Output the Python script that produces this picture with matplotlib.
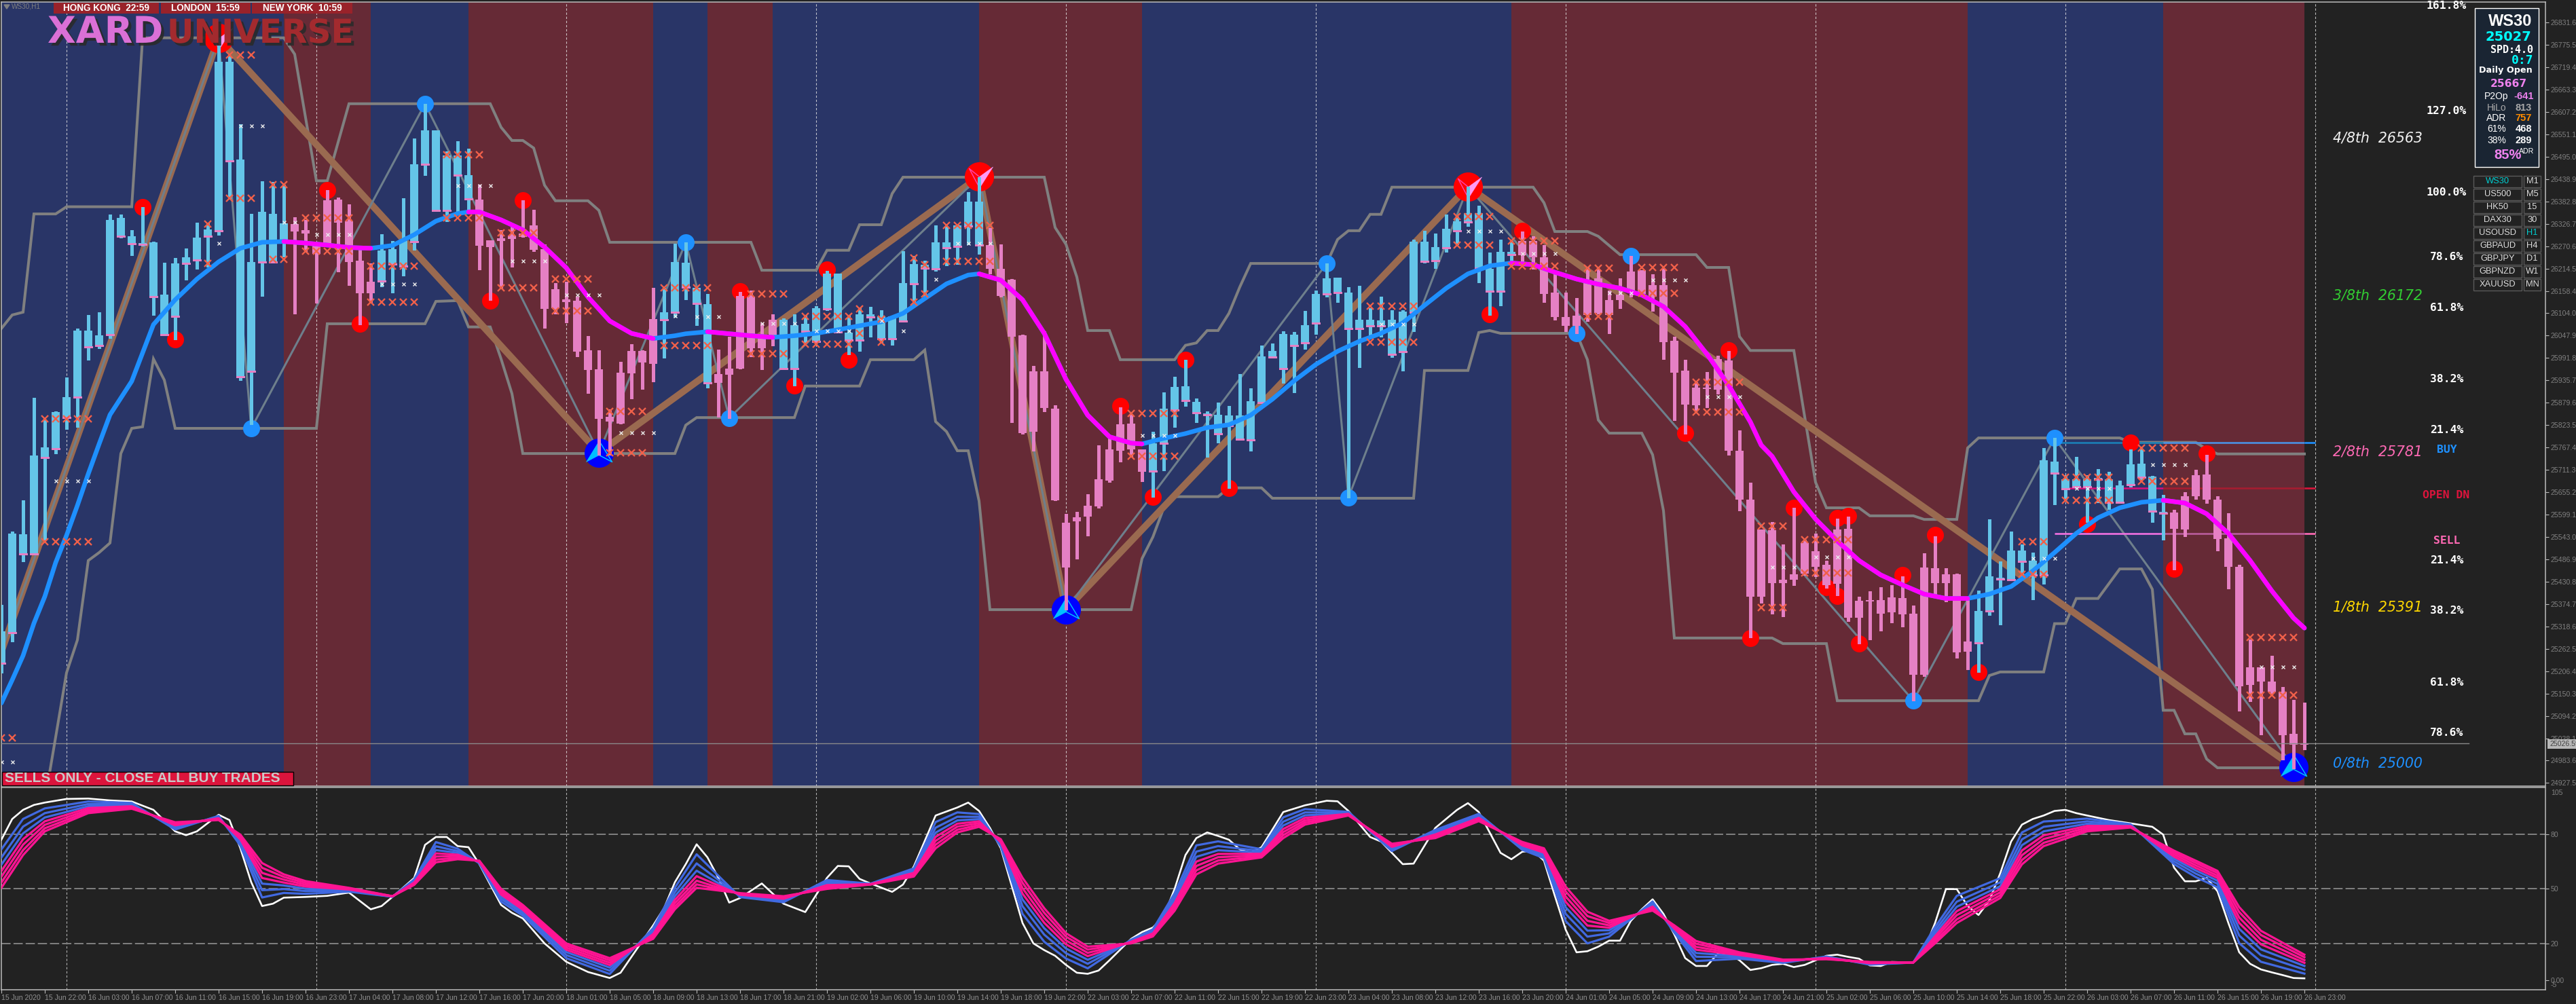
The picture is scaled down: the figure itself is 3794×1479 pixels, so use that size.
import numpy as np
import matplotlib
matplotlib.use('Agg')
import matplotlib.pyplot as plt
from matplotlib.path import Path
from matplotlib.patches import Rectangle
from matplotlib.transforms import Bbox
import matplotlib.patheffects as pe

W, H = 3794, 1479
NARROW = ['Liberation Sans Narrow', 'Liberation Sans']

# candles, bar index is the position in the list
highs = [25373,25557,25635,25892,25837,25858,25943,26065,26099,26106,
         26351,26351,26312,26369,26283,26230,26242,26266,26330,26330,
         26774,26747,26577,26352,26434,26432,26426,26344,26337,26281,
         26412,26393,26376,26262,26228,26301,26284,26392,26541,26628,
         26562,26509,26534,26516,26426,26286,26312,26322,26386,26363,
         26276,26179,26182,26145,26046,26011,25863,25982,26026,26011,
         26167,26167,26278,26281,26167,26152,26012,26045,26157,26160,
         26079,26101,26091,26101,26097,26121,26210,26203,26099,26116,
         26120,26111,26096,26259,26247,26235,26324,26322,26325,26407,
         26444,26317,26276,26189,26050,25972,26058,25873,25601,25606,
         25650,25773,25790,25868,25849,25763,25807,25905,25944,25987,
         25890,25858,25880,25871,25951,25916,26023,26028,26058,26057,
         26109,26160,26228,26193,26169,26172,26116,26145,26111,26111,
         26288,26310,26303,26351,26346,26420,26373,26256,26288,26284,
         26308,26296,26274,26201,26155,26142,26218,26215,26160,26191,
         26247,26211,26201,26215,26045,25987,25931,25956,25997,26009,
         25810,25679,25562,25581,25525,25616,25536,25552,25484,25589,
         25594,25394,25407,25417,25423,25445,25372,25502,25545,25465,
         25451,25390,25409,25587,25482,25557,25525,25504,25766,25791,
         25698,25744,25698,25713,25706,25684,25763,25763,25696,25649,
         25611,25655,25712,25749,25645,25603,25474,25287,25217,25246,
         25168,25135,25128]
lows = [25203,25281,25482,25501,25536,25752,25814,25819,25987,26016,
        26041,26293,26249,26273,26099,26050,26038,26188,26215,26220,
        26300,26392,25936,25825,26147,26232,26245,26103,26259,26130,
        26273,26208,26174,26075,26130,26171,26155,26198,26262,26449,
        26361,26334,26358,26361,26213,26137,26167,26220,26295,26259,
        26067,26103,26080,25995,25904,25749,25749,25827,25890,25914,
        25933,25992,26094,26138,26074,25917,25844,25841,25965,25995,
        25963,26023,25963,25922,26031,26029,26111,26057,26001,26009,
        26045,26031,26024,26082,26128,26145,26210,26223,26227,26276,
        26252,26203,26145,25831,25802,25759,25858,25635,25361,25489,
        25547,25616,25681,25732,25744,25683,25644,25710,25819,25871,
        25831,25744,25780,25666,25786,25759,25878,25992,25929,25905,
        26014,26052,26145,26131,25642,25968,26045,26045,25994,25960,
        26058,26230,26216,26257,26276,26322,26181,26099,26123,26223,
        26223,26215,26131,26087,26058,26053,26084,26103,26053,26116,
        26145,26148,26109,25989,25836,25802,25859,25868,25902,25749,
        25610,25292,25378,25351,25344,25423,25448,25445,25416,25397,
        25332,25276,25287,25309,25329,25319,25134,25195,25400,25382,
        25241,25212,25205,25348,25324,25436,25441,25387,25426,25625,
        25637,25666,25581,25630,25613,25630,25669,25688,25581,25536,
        25462,25545,25638,25628,25509,25414,25108,25132,25049,25151,
        24986,24964,25011]
body_tops = [25307,25552,25550,25747,25768,25856,25893,26060,26060,26048,
             26337,26342,26296,26278,26281,26150,26228,26244,26293,26313,
             26733,26733,26488,26232,26358,26352,26329,26327,26312,26273,
             26386,26388,26334,26235,26182,26261,26264,26284,26477,26562,
             26562,26499,26499,26449,26388,26286,26291,26298,26303,26324,
             26264,26164,26138,26135,26011,25963,25844,25955,26009,26009,
             26089,26106,26232,26230,26167,26126,25951,25965,26147,26145,
             26050,26087,26087,26074,26077,26116,26203,26203,26055,26101,
             26101,26096,26096,26179,26227,26225,26281,26281,26324,26383,
             26383,26274,26215,26188,26048,25958,25958,25865,25579,25593,
             25621,25688,25763,25825,25827,25763,25778,25865,25919,25921,
             25882,25851,25849,25848,25848,25883,25995,26009,26052,26050,
             26074,26152,26191,26193,26155,26087,26087,26086,26087,26108,
             26283,26283,26269,26315,26334,26354,26354,26215,26257,26257,
             26284,26284,26244,26155,26094,26097,26188,26191,26137,26150,
             26208,26211,26174,26174,26035,25960,25917,25917,25989,25985,
             25759,25637,25562,25560,25436,25450,25528,25508,25474,25562,
             25564,25383,25383,25385,25392,25390,25351,25467,25465,25450,
             25450,25281,25358,25445,25440,25509,25509,25484,25735,25732,
             25688,25688,25688,25691,25688,25672,25725,25727,25695,25604,
             25604,25645,25698,25700,25637,25540,25468,25217,25217,25181,
             25156,25050,25025]
body_bots = [25227,25304,25501,25501,25742,25764,25842,25893,26019,26023,
             26050,26296,26278,26276,26145,26050,26096,26228,26237,26296,
             26310,26485,25944,25958,26232,26232,26284,26308,26303,26252,
             26273,26330,26232,26154,26154,26184,26227,26222,26283,26477,
             26361,26361,26449,26390,26273,26269,26284,26290,26295,26262,
             26114,26116,26131,26007,25961,25839,25832,25827,25953,25980,
             25977,26087,26106,26169,26128,25929,25929,25950,25965,26016,
             26016,26048,25965,25965,26058,26033,26114,26057,26036,26036,
             26094,26040,26040,26084,26177,26216,26215,26267,26271,26322,
             26274,26215,26147,26045,25803,25807,25866,25635,25467,25582,
             25594,25620,25684,25759,25763,25706,25708,25778,25861,25885,
             25854,25849,25802,25822,25788,25786,25880,25994,25965,26023,
             26029,26079,26152,26155,26065,26065,26072,26072,26001,26007,
             26106,26233,26235,26267,26310,26332,26216,26159,26159,26250,
             26249,26244,26152,26094,26072,26072,26099,26104,26099,26137,
             26157,26152,26145,26031,25955,25875,25873,25914,25912,25759,
             25637,25394,25394,25428,25428,25436,25451,25468,25423,25426,
             25341,25341,25382,25351,25355,25349,25198,25198,25428,25428,
             25254,25256,25278,25358,25438,25436,25482,25448,25448,25703,
             25664,25669,25669,25688,25630,25630,25674,25693,25608,25603,
             25564,25562,25645,25637,25538,25468,25169,25173,25181,25156,
             25047,25023,25023]

# up runs of bars, the background colour follows the same runs
up_runs = [(0, 26), (34, 43), (60, 65), (71, 90), (105, 139), (181, 199)]
down_runs = [(26, 34), (43, 60), (65, 71), (90, 105), (139, 181), (199, 212)]
session_bars = [6, 29, 52, 75, 98, 121, 144, 167, 190, 213]

# channel lines
upper_bars = [0,1,2,3,5,6,12,13,26,27,29,30,32,45,46,47,48,49,50,51,54,55,56,69,70,75,76,78,79,81,82,83,96,97,98,99,100,102,103,108,109,110,111,112,113,114,115,122,123,124,125,126,127,128,141,142,143,146,147,149,156,157,159,160,161,165,166,167,168,171,172,176,177,180,181,182,195,196,202,203,204,212]
upper_vals = [26065,26099,26106,26352,26352,26370,26370,26793,26793,26752,26435,26435,26628,26628,26569,26536,26536,26517,26424,26385,26385,26361,26281,26281,26211,26211,26261,26261,26325,26325,26403,26444,26444,26318,26276,26194,26060,26060,25987,25987,26023,26029,26060,26060,26103,26169,26228,26228,26288,26310,26310,26351,26351,26419,26419,26380,26308,26308,26296,26250,26250,26218,26218,26045,26010,26010,25844,25680,25616,25616,25596,25596,25587,25587,25766,25791,25791,25780,25780,25763,25751,25751]
lower_bars = [4,5,6,7,8,9,10,11,12,13,14,15,16,29,30,39,40,42,43,45,46,47,48,62,63,64,73,74,79,80,84,85,86,87,88,89,90,91,104,105,106,107,108,112,113,116,117,130,131,135,136,137,138,145,146,147,148,151,152,153,154,163,164,168,169,182,183,184,188,189,190,191,193,195,197,198,199,200,201,202,203,204,212]
lower_vals = [24882,25042,25203,25285,25484,25504,25528,25752,25815,25819,25989,25936,25815,25815,26077,26077,26133,26135,26069,26069,25989,25902,25752,25752,25823,25842,25842,25921,25921,25987,25987,26011,25832,25807,25759,25759,25633,25361,25361,25489,25543,25616,25644,25644,25666,25666,25640,25640,25960,25960,26055,26060,26053,26053,25987,25836,25803,25803,25749,25609,25290,25290,25276,25276,25133,25133,25196,25205,25205,25326,25326,25389,25389,25463,25463,25412,25109,25109,25050,25050,24987,24965,24965]

# zigzags
swing_bars = [0, 20, 55, 90, 98, 135, 211]
swing_vals = [25256, 26793, 25754, 26445, 25361, 26420, 24967]
minor_bars = [0, 20, 23, 39, 55, 63, 67, 90, 98, 122, 124, 135, 176, 189, 211]
minor_vals = [25256, 26793, 25815, 26628, 25754, 26281, 25841, 26445, 25361, 26228, 25642, 26420, 25133, 25791, 24967]

# smooth average
hma_bars = [0,1,2,3,4,5,6,7,8,9,10,12,14,16,18,20,22,24,26,28,30,32,34,36,38,40,42,43,44,46,48,50,52,54,56,58,60,62,63,65,67,69,71,73,75,77,79,81,83,85,87,89,90,92,94,96,98,100,102,104,105,107,109,111,113,115,117,119,121,123,125,127,129,131,133,135,137,139,141,143,145,147,149,151,153,155,157,159,161,162,163,165,167,169,171,173,175,177,179,181,183,185,187,189,191,193,195,197,199,201,203,205,207,209,211,212]
hma_vals = [25127,25185,25246,25327,25394,25479,25547,25622,25701,25776,25849,25933,26075,26137,26189,26232,26266,26281,26283,26279,26274,26268,26266,26273,26300,26334,26353,26357,26357,26337,26312,26269,26217,26144,26084,26053,26040,26047,26052,26057,26052,26047,26043,26047,26053,26062,26072,26082,26103,26140,26177,26199,26202,26186,26137,26053,25938,25848,25794,25778,25776,25790,25802,25817,25824,25848,25888,25934,25975,26008,26033,26053,26079,26123,26166,26202,26222,26229,26225,26206,26189,26176,26166,26149,26120,26070,26001,25923,25831,25773,25745,25656,25588,25533,25484,25448,25423,25400,25389,25389,25400,25419,25458,25504,25552,25591,25616,25630,25635,25628,25601,25552,25484,25408,25340,25315]

# signal dots
blue_dot_bars = [23, 39, 63, 67, 122, 124, 145, 150, 176, 189]
blue_dot_vals = [25815, 26628, 26281, 25841, 26228, 25642, 26053, 26247, 25133, 25791]
red_dot_bars = [13, 16, 30, 33, 45, 48, 68, 73, 76, 78, 103, 106, 109, 113, 137, 140, 155, 159, 161, 165, 168, 169, 170, 169, 171, 175, 178, 182, 192, 196, 200, 203]
red_dot_vals = [26370, 26038, 26412, 26077, 26135, 26386, 26159, 25922, 26213, 25987, 25871, 25644, 25987, 25666, 26101, 26309, 25803, 26010, 25290, 25616, 25418, 25591, 25596, 25395, 25277, 25448, 25548, 25205, 25576, 25780, 25463, 25752]
big_top_bars = [20, 90, 135]
big_top_vals = [26793, 26445, 26420]
big_bottom_bars = [55, 98, 211]
big_bottom_vals = [25754, 25361, 24967]

# rows of x marks: first bar, last bar, price
red_x_rows = [(4,8,25839),(4,8,25531),(0,1,25040),(19,19,26327),(19,19,26228),(21,23,26750),(21,23,26392),(25,26,26426),(25,26,26239),
              (28,32,26342),(28,32,26259),(34,38,26222),(34,38,26131),(41,44,26500),(41,44,26342),(46,49,26305),(46,49,26167),(51,54,26189),
              (51,54,26110),(56,59,25858),(56,59,25754),(61,65,26167),(61,65,26023),(69,72,26152),(69,72,26002),(74,78,26095),(74,78,26026),
              (79,79,26115),(79,79,26053),(81,81,26089),(81,81,26031),(84,84,26242),(84,84,26131),(85,85,26225),(85,85,26151),(87,91,26324),
              (87,91,26233),(104,108,25853),(104,108,25746),(126,130,26121),(126,130,26031),(134,137,26346),(134,137,26274),(139,143,26284),
              (139,143,26222),(146,148,26216),(146,148,26096),(151,154,26218),(151,154,26154),(156,160,25930),(156,160,25856),(162,164,25570),
              (162,164,25367),(166,170,25536),(166,170,25453),(186,188,25531),(186,188,25450),(190,194,25693),(190,194,25635),(197,201,25766),
              (197,201,25683),(207,211,25292),(207,211,25147)]
white_x_rows = [(5,8,25684),(0,1,24980),(22,24,26573),(20,20,26279),(26,27,26332),(29,32,26301),(35,38,26177),(42,45,26424),(47,50,26235),
                (52,55,26150),(57,60,25805),(62,62,26097),(64,66,26096),(70,73,26079),(75,78,26060),(81,81,26086),(83,83,26060),(86,86,26189),
                (88,91,26279),(105,108,25798),(127,130,26077),(135,138,26310),(140,143,26254),(148,150,26155),(152,155,26188),(157,160,25895),
                (163,165,25468),(167,170,25494),(187,189,25491),(191,194,25666),(198,201,25725),(208,211,25219)]

# lines at the right end of the chart
level_vals = [25780, 25666, 25552]
level_first_bar = [189, 190, 189]
bid_price = 25026.59

# price axis
price_ticks = [26831.65,26775.55,26719.45,26663.35,26607.25,26551.15,26495.05,26438.95,26382.85,26326.75,26270.65,26214.55,26158.45,26104.00,
               26047.90,25991.80,25935.70,25879.60,25823.50,25767.40,25711.30,25655.20,25599.10,25543.00,25486.90,25430.80,25374.70,25318.60,
               25262.50,25206.40,25150.30,25094.20,25038.10,24983.65,24927.55]
fib_labels = ['161.8%','127.0%','100.0%','78.6%','61.8%','38.2%','21.4%','21.4%','38.2%','61.8%','78.6%']
fib_vals = [26874,26609,26405,26244,26116,25938,25810,25485,25358,25178,25052]
murrey_labels = ['4/8th  26563','3/8th  26172','2/8th  25781','1/8th  25391','0/8th  25000']
murrey_vals = [26541,26148,25757,25367,24976]
murrey_cols = ['#F2F2F2','#32CD32','#FF69B4','#FFD700','#1E90FF']

# oscillator, the white line is read at nearly every bar
white_bars = [0,1,2,3,4,6,8,10,12,14,16,17,18,20,21,22,23,24,25,26,28,30,32,34,35,36,38,39,40,41,42,43,44,46,47,48,50,52,54,56,57,58,60,61,62,63,64,65,66,67,68,70,72,74,76,77,78,79,80,82,83,84,86,88,89,90,91,92,94,95,96,97,98,99,100,101,102,104,105,106,107,108,109,110,111,112,113,114,115,116,118,120,122,123,124,126,127,128,129,130,132,134,135,136,138,139,140,141,142,143,144,145,146,147,148,149,150,151,152,153,154,155,156,157,158,159,160,161,162,163,164,165,166,168,169,170,171,172,173,174,176,177,178,179,180,181,182,183,184,185,186,187,188,189,190,191,192,194,196,198,199,200,201,202,203,204,205,206,207,208,209,210,211,212]
osc_white = [77,88.4,93.4,96.1,97.4,99.4,99.6,98.6,98,93.4,81.6,79.5,81.6,90.7,87.8,72.3,53.7,40.6,41.9,45.2,45.6,46.2,48,38.8,40.6,45.6,56,74.2,78.5,78.5,73.5,72.9,63.6,41.2,36.9,33.8,20.1,10,4.4,1.1,4,12.7,30,39.4,53.7,63.6,74.5,67.3,56.1,42.5,45,53,41.9,37.3,56.1,62.6,62.4,55.5,53,48.4,52.4,62.4,90.3,94.7,97.4,92.8,83.5,72.3,31.3,20.1,16.4,13.3,8.3,4,3.4,5.2,10.8,22.6,26.3,28.8,35,50,68.6,77.9,81,79.1,77,71.7,69.8,72.9,92.2,95.9,98.4,98.1,92.8,78.5,76,69.8,63.6,63.9,83.5,93.4,97.1,92.2,69.8,66.3,70.4,71,65.5,46.2,27.6,15.2,15.8,18.3,21.6,21.6,32.5,38.8,44.3,36.3,25,12,7.7,7.7,14.5,14.5,10.8,5.5,6.5,8.3,8.9,7.1,8.3,13.3,13.9,12.7,11.7,8,7.7,9.9,9.6,16.4,31.3,49.9,49.9,40.6,35.7,43.7,58.6,76,85.3,88.4,90.3,92.8,93.4,91.6,90.3,87.8,86,84.1,79.8,61.7,54.2,54.2,56.1,48.7,31.3,15.2,8.9,5.8,4.2,2.7,1.1,0.9]
mid_bars = [0,2,4,8,12,16,20,22,24,26,28,32,36,38,40,42,44,46,48,52,56,60,62,64,68,72,76,80,84,86,88,90,92,94,96,98,100,104,106,108,110,112,116,118,120,124,128,132,136,140,142,144,146,148,152,154,156,160,164,168,172,176,178,180,184,186,188,192,196,200,202,204,206,208,212]
osc_blue1 = [71.7,88.4,94.2,98,97.2,82.6,90.1,73.8,45.3,47.8,47.3,48.5,45.7,55.2,75.7,72.1,64,43,35.3,12,3.3,28.5,50.7,69,45.5,42.7,54.9,52.9,61.3,86.7,92,91.1,73.3,36.3,21,11.8,6.4,22.1,27.8,47.6,73.9,76.1,71.8,89.3,93.8,92.3,70.8,82.4,91.2,71.5,66.9,32.3,20.1,23.8,43.1,26,10.4,11.7,9.4,12.9,8.4,9.6,29.1,46.2,55.9,81,87,88.6,85.5,63.6,56.5,50.9,20.2,10,3.5]
osc_blue2 = [67.2,84.2,91.6,96.6,96.5,83.5,89.6,75.1,49.3,49.9,48.8,49,45.7,54.6,73.4,70.8,64.3,44.5,36.5,13.7,5.1,27.3,48.2,64,46,43.4,53.8,52.8,60.3,83.6,89.6,89.6,74.2,40.5,24.9,14.7,8.9,21.7,27,45.6,70.5,73.5,70.8,86.9,92,91.9,71.7,81.4,90.4,72.4,68,36.3,23.8,25.6,42,26.9,12.8,12.4,9.8,12.6,8.7,9.6,27.2,43,53.6,77.2,84.1,87.1,85.1,65.1,58.4,52.8,24.4,13.6,5.7]
osc_blue3 = [63.3,80.5,89.2,95.4,95.9,84.2,89.2,76.2,52.9,51.9,50.1,49.4,45.8,54,71.3,69.8,64.6,45.8,37.6,15.3,6.8,26.2,46,60,46.4,44,52.9,52.7,59.5,80.9,87.6,88.3,74.9,44.2,28.4,17.3,11.1,21.3,26.3,43.8,67.6,71.2,70,84.8,90.4,91.5,72.4,80.6,89.6,73.2,69,39.9,27.1,27.3,41.1,27.6,14.8,13.1,10.1,12.3,9,9.6,25.5,40.2,51.5,74,81.6,85.8,84.8,66.5,60.1,54.5,28.1,16.8,7.7]
osc_pink1 = [59.8,77.3,87.1,94.4,95.4,84.9,88.8,77.2,56,53.5,51.3,49.7,45.9,53.5,69.5,68.8,64.8,46.9,38.6,16.6,8.2,25.2,44,57,46.8,44.6,52.1,52.6,58.8,78.6,85.8,87.1,75.6,47.4,31.4,19.6,13.1,21,25.6,42.2,65,69.2,69.3,82.9,89,91.2,73.1,79.9,89,73.9,69.9,42.9,29.9,28.7,40.3,28.3,16.6,13.7,10.4,12.1,9.2,9.6,24,37.8,49.8,71.1,79.4,84.6,84.5,67.7,61.5,56,31.3,19.6,9.4]
osc_pink2 = [56.7,74.3,85.2,93.4,94.9,85.5,88.5,78.1,58.8,55.1,52.3,50,45.9,53.1,67.8,68,65.1,48,39.5,17.8,9.5,24.3,42.2,54.5,47.1,45.1,51.4,52.5,58.1,76.4,84.2,86.1,76.2,50.4,34.1,21.7,14.9,20.7,25,40.8,62.6,67.4,68.6,81.2,87.7,90.9,73.7,79.2,88.4,74.6,70.7,45.8,32.5,30,39.5,28.9,18.2,14.2,10.7,11.8,9.5,9.6,22.7,35.6,48.1,68.5,77.4,83.6,84.2,68.9,62.9,57.3,34.3,22.1,10.9]
osc_pink3 = [53.5,71.3,83.3,92.5,94.4,86,88.1,79,61.6,56.6,53.3,50.3,46,52.6,66.1,67.1,65.3,49,40.4,19,10.8,23.4,40.4,52.5,47.4,45.5,50.7,52.5,57.4,74.3,82.5,85.1,76.8,53.4,36.9,23.8,16.7,20.4,24.4,39.3,60.2,65.6,67.9,79.5,86.5,90.6,74.3,78.5,87.8,75.2,71.6,48.6,35.1,31.3,38.8,29.5,19.9,14.7,10.9,11.6,9.7,9.6,21.3,33.3,46.5,65.9,75.3,82.6,84,70,64.3,58.7,37.3,24.7,12.5]
osc_pink4 = [50.6,68.6,81.6,91.6,94,86.6,87.8,79.8,64.2,58,54.3,50.6,46,52.2,64.6,66.3,65.5,50,41.2,20.1,12,22.6,38.8,50.6,47.7,46,50,52.4,56.8,72.3,81,84.1,77.3,56.1,39.4,25.7,18.3,20.1,23.9,38,58,63.9,67.3,77.9,85.3,90.3,74.8,77.9,87.2,75.8,72.3,51.2,37.5,32.5,38.1,30,21.4,15.2,11.2,11.4,9.9,9.6,20.1,31.3,45,63.5,73.5,81.6,83.7,71,65.5,59.9,40,27,13.9]
date_labels = ['15 Jun 2020','15 Jun 22:00','16 Jun 03:00','16 Jun 07:00','16 Jun 11:00','16 Jun 15:00','16 Jun 19:00','16 Jun 23:00',
               '17 Jun 04:00','17 Jun 08:00','17 Jun 12:00','17 Jun 16:00','17 Jun 20:00','18 Jun 01:00','18 Jun 05:00','18 Jun 09:00',
               '18 Jun 13:00','18 Jun 17:00','18 Jun 21:00','19 Jun 02:00','19 Jun 06:00','19 Jun 10:00','19 Jun 14:00','19 Jun 18:00',
               '19 Jun 22:00','22 Jun 03:00','22 Jun 07:00','22 Jun 11:00','22 Jun 15:00','22 Jun 19:00','22 Jun 23:00','23 Jun 04:00',
               '23 Jun 08:00','23 Jun 12:00','23 Jun 16:00','23 Jun 20:00','24 Jun 01:00','24 Jun 05:00','24 Jun 09:00','24 Jun 13:00',
               '24 Jun 17:00','24 Jun 21:00','25 Jun 02:00','25 Jun 06:00','25 Jun 10:00','25 Jun 14:00','25 Jun 18:00','25 Jun 22:00',
               '26 Jun 03:00','26 Jun 07:00','26 Jun 11:00','26 Jun 15:00','26 Jun 19:00','26 Jun 23:00']

# colours
BG = '#222222'
NAVY = '#293567'
MAROON = '#662A36'
UP = '#64C5E8'
DOWN = '#E580C4'
GREY = '#808080'
LINE = '#BBBBBB'


def ax_rect(left, top, right, bottom):
    return [left / W, 1 - bottom / H, (right - left) / W, (bottom - top) / H]


fig = plt.figure(figsize=(W / 100, H / 100), dpi=100, facecolor=BG)
ax = fig.add_axes(ax_rect(2, 3, 3749, 1158), facecolor=BG)
ax2 = fig.add_axes(ax_rect(2, 1160, 3749, 1458), facecolor=BG)

x_end = (3749 - 2) / 16
for a in (ax, ax2):
    a.set_xlim(0, x_end)
    for s in a.spines.values():
        s.set_color(LINE)
        s.set_linewidth(1.1)
ax.set_ylim(24919.15, 26882.65)
ax2.set_ylim(-5.35, 105.7)

# background sessions
for a, b in up_runs:
    ax.axvspan(a, b, color=NAVY, lw=0, zorder=0)
for a, b in down_runs:
    ax.axvspan(a, b, color=MAROON, lw=0, zorder=0)
for b in session_bars:
    ax.axvline(b, color='#E8E8E8', lw=0.8, dashes=(3, 2.5), alpha=0.8, zorder=1)
    ax2.axvline(b, color='#B0B0B0', lw=0.8, dashes=(3, 2.5), zorder=1)

# channel and zigzags
ax.plot(upper_bars, upper_vals, color=GREY, lw=2.9, zorder=2, solid_joinstyle='miter')
ax.plot(lower_bars, lower_vals, color=GREY, lw=2.9, zorder=2, solid_joinstyle='miter')
ax.plot(swing_bars, swing_vals, color='#9A6A50', lw=7.2, zorder=2.2)
ax.plot(minor_bars, minor_vals, color='#6E7F8C', lw=2.2, zorder=2.4)

# level lines, duller over the last session
level_bright = ['#1E90FF', '#DC143C', '#FF69B4']
level_over_blue = ['#1B7FB5', '#D5107A', '#F070E0']
level_over_red = ['#4A90E2', '#A51C30', '#B85C9C']
for v, first, c0, c1, c2 in zip(level_vals, level_first_bar, level_over_blue, level_over_red, level_bright):
    ax.plot([first, 199], [v, v], color=c0, lw=1.9, zorder=2.6, solid_capstyle='butt')
    ax.plot([199, 212], [v, v], color=c1, lw=1.9, zorder=2.6, solid_capstyle='butt')
    ax.plot([212, 213], [v, v], color=c2, lw=1.9, zorder=2.6, solid_capstyle='butt')
ax.plot([0, 3636 / 16 - 0.125], [bid_price, bid_price], color='#8A8A8A', lw=1.0, zorder=5.5)

# dots sit under the candles
ax.plot(blue_dot_bars, blue_dot_vals, 'o', color='#1E90FF', ms=18, mew=0, zorder=3)
ax.plot(red_dot_bars, red_dot_vals, 'o', color='#FF0000', ms=18, mew=0, zorder=3)
ax.plot(big_top_bars, big_top_vals, 'o', color='#FF0000', ms=31, mew=0, zorder=3)
ax.plot(big_bottom_bars, big_bottom_vals, 'o', color='#0000FF', ms=31, mew=0, zorder=3)

tri_up_fill = Path([(0, 18), (-19, -13), (0, -3), (0, 18)], closed=True)
tri_up_line = Path([(0, 18), (19, -13), (0, -3), (0, 18)], closed=True)
tri_dn_fill = Path([(0, 0), (20, 14.5), (0, -17), (0, 0)], closed=True)
tri_dn_line = Path([(-16, 13), (0, 0), (0, -17), (-16, 13)], closed=True)
ax.plot(big_bottom_bars, big_bottom_vals, ls='', marker=tri_up_fill, ms=27.4, mfc='#00BFFF', mec='#00BFFF', mew=0.4, zorder=3.2)
ax.plot(big_bottom_bars, big_bottom_vals, ls='', marker=tri_up_line, ms=27.4, mfc='none', mec='#00BFFF', mew=1.1, zorder=3.2)
ax.plot(big_top_bars, big_top_vals, ls='', marker=tri_dn_fill, ms=28.8, mfc='#FF99F5', mec='#FF99F5', mew=0.4, zorder=3.2)
ax.plot(big_top_bars, big_top_vals, ls='', marker=tri_dn_line, ms=23, mfc='none', mec='#FF3FA5', mew=1.1, zorder=3.2)

# candles
bars = np.arange(len(highs))
highs_a = np.array(highs, float)
lows_a = np.array(lows, float)
tops_a = np.array(body_tops, float)
bots_a = np.array(body_bots, float)
is_up = np.zeros(len(highs), bool)
for a, b in up_runs:
    is_up[a:b + 1] = True
for a, b in down_runs:
    is_up[a + 1:b + 1] = False
is_up[26] = True
colors = [UP if u else DOWN for u in is_up]
ax.vlines(bars, lows_a, highs_a, colors=colors, lw=2.2, zorder=4, antialiased=False)
ax.bar(bars, np.maximum(tops_a - bots_a, 3.4), bottom=bots_a, width=0.69, color=colors, lw=0, zorder=4.1, antialiased=False)
ax.hlines(bots_a[is_up], bars[is_up] - 0.345, bars[is_up] + 0.345, colors=DOWN, lw=0.9, zorder=4.2, antialiased=False)

# smooth average, magenta over the down runs
hb = np.array(hma_bars, float)
hv = np.array(hma_vals, float)
ax.plot(hb, hv, color='#1E90FF', lw=4.8, zorder=5, solid_capstyle='round')
for a, b in down_runs:
    m = (hb >= a) & (hb <= b)
    ax.plot(hb[m], hv[m], color='#FF00FF', lw=4.8, zorder=5.1, solid_capstyle='round')

# x marks
for first, last, v in red_x_rows:
    ax.plot(np.arange(first, last + 1), [v] * (last - first + 1), ls='', marker='x', ms=7.5, mew=1.7, color='#F0604A', zorder=6)
for first, last, v in white_x_rows:
    ax.plot(np.arange(first, last + 1), [v] * (last - first + 1), ls='', marker='x', ms=3.6, mew=1.0, color='#EDEDED', zorder=6)

# texts tied to price
for lab, v in zip(fib_labels, fib_vals):
    ax.text(225.1, v, lab, color='white', family='DejaVu Sans Mono', weight='bold', fontsize=11.8, ha='center', va='center', zorder=7, clip_on=False)
for lab, v, c in zip(murrey_labels, murrey_vals, murrey_cols):
    ax.text(218.75, v, lab, color=c, family='DejaVu Sans', style='italic', fontsize=14.8, ha='center', va='center', zorder=7)
ax.text(225.1, 25761, 'BUY', color='#1E90FF', family='DejaVu Sans Mono', weight='bold', fontsize=11.8, ha='center', va='center', zorder=7)
ax.text(225.1, 25533, 'SELL', color='#FF69B4', family='DejaVu Sans Mono', weight='bold', fontsize=11.8, ha='center', va='center', zorder=7)
open_txt = ax.text(222.85, 25647, 'OPEN DN', color='#DC143C', family='DejaVu Sans Mono', weight='bold', fontsize=11.8, ha='left', va='center', zorder=7)
open_txt.set_clip_box(Bbox([[0, 0], [3637, H]]))
open_txt.set_clip_on(True)

# price axis
ax.yaxis.tick_right()
ax.set_yticks(price_ticks)
ax.set_yticklabels(['%.2f' % t for t in price_ticks], family=NARROW, fontsize=7.6, color=GREY)
ax.tick_params(axis='y', length=3.6, width=0.8, color=LINE, pad=2)
ax.set_xticks([])

# oscillator
for level in (80, 50, 20):
    ax2.axhline(level, color=GREY, lw=1.4, dashes=(7, 2.2), zorder=1.5)
ax2.plot(white_bars, osc_white, color='white', lw=1.9, zorder=3)
for series in (osc_blue1, osc_blue2, osc_blue3):
    ax2.plot(mid_bars, series, color='#4169E1', lw=2.3, zorder=3.2)
for series in (osc_pink1, osc_pink2, osc_pink3, osc_pink4):
    ax2.plot(mid_bars, series, color='#FF1493', lw=2.3, zorder=3.4)
ax2.yaxis.tick_right()
ax2.set_yticks([80, 50, 20, 0])
ax2.set_yticklabels(['80', '50', '20', '0.00'], family=NARROW, fontsize=7.6, color=GREY)
ax2.tick_params(axis='y', length=3.6, width=0.8, color=LINE, pad=2)
ax2.set_xticks(np.arange(0, 213, 4))
ax2.set_xticklabels(date_labels, family=NARROW, fontsize=7.6, color='#909090', ha='left')
ax2.tick_params(axis='x', length=3.6, width=0.8, color=LINE, pad=1.5)

# overlay in pixels for the panel, badges and titles
ov = fig.add_axes([0, 0, 1, 1], zorder=10)
ov.set_xlim(0, W)
ov.set_ylim(H, 0)
ov.axis('off')
ov.patch.set_alpha(0)


def box(x0, y0, x1, y1, fc, ec='none', lw=0.0):
    ov.add_patch(Rectangle((x0, y0), x1 - x0, y1 - y0, facecolor=fc, edgecolor=ec, linewidth=lw))


def label(x, y, s, color='white', size=9, family='Liberation Sans', weight='normal', ha='center', va='center'):
    return ov.text(x, y, s, color=color, fontsize=size, family=family, weight=weight, ha=ha, va=va)


# osc axis labels that sit off their tick
label(3757, 1168, '105', GREY, 7.6, NARROW, ha='left')
label(3757, 1451, '-5', GREY, 7.6, NARROW, ha='left')

# bid tag
box(3752, 1089, 3794, 1103, '#B8B8B8')
label(3755, 1096, '25026.59', '#404040', 7.6, NARROW, ha='left')

# top-left title
ov.fill([6, 14, 10], [7, 7, 13], color=GREY)
label(17, 10, 'WS30,H1', GREY, 7.2, NARROW, ha='left')

# clock badges
for x0, x1, s in [(79, 234, 'HONG KONG  22:59'), (237, 369, 'LONDON  15:59'), (371, 519, 'NEW YORK  10:59')]:
    box(x0, 4, x1, 20, '#99222A')
    label((x0 + x1) / 2, 12, s, 'white', 9.8, 'Liberation Sans', 'bold')

# logo
shadow = [pe.withSimplePatchShadow(offset=(3, -3), shadow_rgbFace='#2A2A2A', alpha=0.9)]
t = label(70, 63, 'XARD', '#DA70D6', 39, 'DejaVu Sans', 'bold', ha='left', va='baseline')
t.set_path_effects(shadow)
t = label(246, 63, 'UNIVERSE', '#A32A2E', 35, 'DejaVu Sans', 'bold', ha='left', va='baseline')
t.set_path_effects(shadow)

# warning bar
box(3, 1137, 432, 1157, '#DC143C', 'black', 1.0)
label(7, 1147, 'SELLS ONLY - CLOSE ALL BUY TRADES', '#C8C8C8', 15, 'Liberation Sans', 'bold', ha='left')

# info panel
box(3645, 12, 3739, 246, '#1A2533', 'white', 1.0)
label(3729, 32, 'WS30', 'white', 17, 'Liberation Sans', 'bold', ha='right')
label(3728, 54, '25027', '#00FFFF', 14, 'DejaVu Sans', 'bold', ha='right')
label(3731, 73, 'SPD:4.0', 'white', 10.8, 'DejaVu Sans Mono', 'bold', ha='right')
label(3731, 89, '0:7', '#00FFFF', 13, 'DejaVu Sans Mono', 'bold', ha='right')
label(3730, 104, 'Daily Open', 'white', 9.2, 'DejaVu Sans', 'bold', ha='right')
label(3722, 123, '25667', '#EE82EE', 11.2, 'DejaVu Sans', 'bold', ha='right')
rows = [('P2Op', 'white', '-641', '#EE82EE', 142), ('HiLo', '#A9A9A9', '813', '#A9A9A9', 159),
        ('ADR', 'white', '757', '#FF8C00', 174), ('61%', 'white', '468', 'white', 190), ('38%', 'white', '289', 'white', 207)]
for a, ca, b, cb, y in rows:
    label(3677, y, a, ca, 10)
    label(3717, y, b, cb, 10.5, weight='bold')
label(3694, 228, '85%', '#EE82EE', 14.5, weight='bold')
label(3721, 223, 'ADR', 'white', 7.6)

# symbol and timeframe buttons
symbols = ['WS30', 'US500', 'HK50', 'DAX30', 'USOUSD', 'GBPAUD', 'GBPJPY', 'GBPNZD', 'XAUUSD']
frames = ['M1', 'M5', '15', '30', 'H1', 'H4', 'D1', 'W1', 'MN']
for k, (sym, tf) in enumerate(zip(symbols, frames)):
    yc = 267 + 19 * k
    box(3643, yc - 8.5, 3714, yc + 8.5, 'none', '#5A5A5A', 1.0)
    box(3717, yc - 8.5, 3742, yc + 8.5, 'none', '#5A5A5A', 1.0)
    label(3678.5, yc, sym, '#00CED1' if sym == 'WS30' else '#DDDDDD', 9.3)
    label(3729.5, yc, tf, '#00CED1' if tf == 'H1' else '#DDDDDD', 9.3)

fig.savefig('out.png', dpi=100, facecolor=BG)
